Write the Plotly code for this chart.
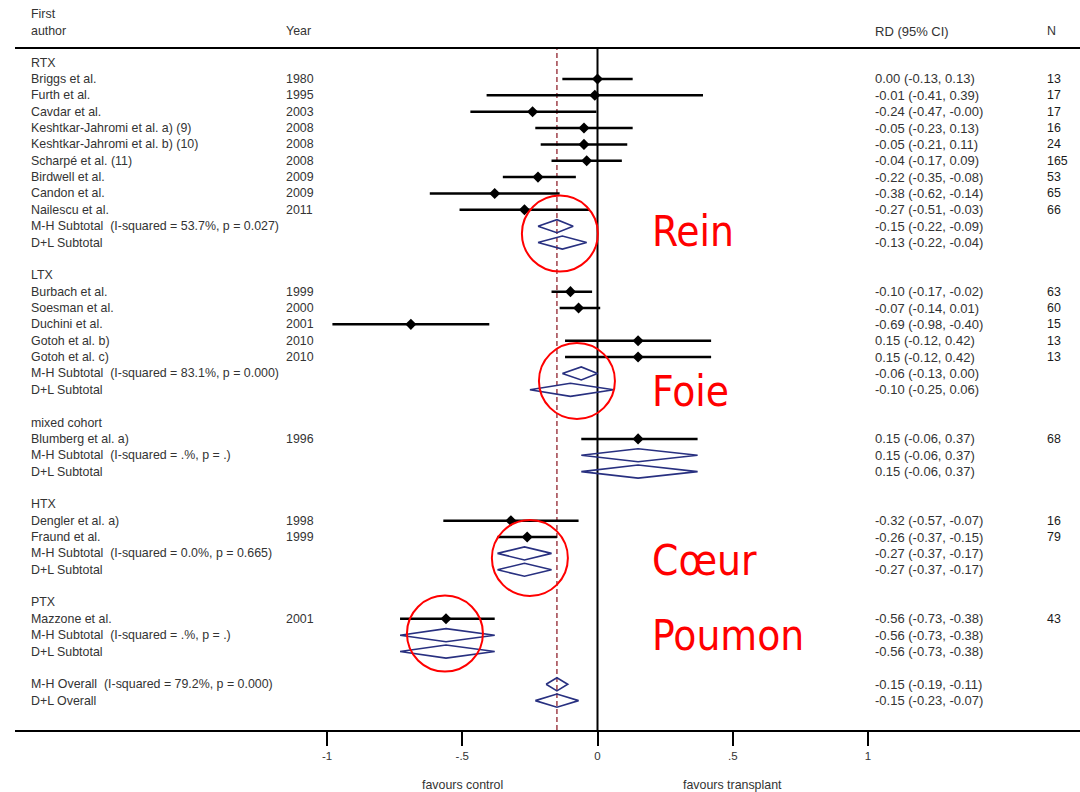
import plotly.graph_objects as go

# ---------------- data ----------------
group_names = ["RTX", "LTX", "mixed cohort", "HTX", "PTX"]
study_group = [0, 0, 0, 0, 0, 0, 0, 0, 0, 1, 1, 1, 1, 1, 2, 3, 3, 4]
study_author = ["Briggs et al.", "Furth et al.", "Cavdar et al.",
                "Keshtkar-Jahromi et al. a) (9)", "Keshtkar-Jahromi et al. b) (10)",
                "Scharpé et al. (11)", "Birdwell et al.", "Candon et al.", "Nailescu et al.",
                "Burbach et al.", "Soesman et al.", "Duchini et al.", "Gotoh et al. b)", "Gotoh et al. c)",
                "Blumberg et al. a)",
                "Dengler et al. a)", "Fraund et al.",
                "Mazzone et al."]
study_year = [1980, 1995, 2003, 2008, 2008, 2008, 2009, 2009, 2011,
              1999, 2000, 2001, 2010, 2010,
              1996,
              1998, 1999,
              2001]
study_rd = [0.00, -0.01, -0.24, -0.05, -0.05, -0.04, -0.22, -0.38, -0.27,
            -0.10, -0.07, -0.69, 0.15, 0.15,
            0.15,
            -0.32, -0.26,
            -0.56]
study_lo = [-0.13, -0.41, -0.47, -0.23, -0.21, -0.17, -0.35, -0.62, -0.51,
            -0.17, -0.14, -0.98, -0.12, -0.12,
            -0.06,
            -0.57, -0.37,
            -0.73]
study_hi = [0.13, 0.39, -0.004, 0.13, 0.11, 0.09, -0.08, -0.14, -0.03,
            -0.02, 0.01, -0.40, 0.42, 0.42,
            0.37,
            -0.07, -0.15,
            -0.38]
study_n = [13, 17, 17, 16, 24, 165, 53, 65, 66,
           63, 60, 15, 13, 13,
           68,
           16, 79,
           43]

mh_i2 = ["53.7", "83.1", "", "0.0", ""]
mh_p = ["0.027", "0.000", "", "0.665", ""]
mh_rd = [-0.15, -0.06, 0.15, -0.27, -0.56]
mh_lo = [-0.22, -0.13, -0.06, -0.37, -0.73]
mh_hi = [-0.09, 0.00, 0.37, -0.17, -0.38]
dl_rd = [-0.13, -0.10, 0.15, -0.27, -0.56]
dl_lo = [-0.22, -0.25, -0.06, -0.37, -0.73]
dl_hi = [-0.04, 0.06, 0.37, -0.17, -0.38]

overall_i2, overall_p = "79.2", "0.000"
overall_mh = (-0.15, -0.19, -0.11)
overall_dl = (-0.15, -0.23, -0.07)

tick_vals = [-1, -0.5, 0, 0.5, 1]
tick_text = ["-1", "-.5", "0", ".5", "1"]

organ_labels = ["Rein", "Foie", "Cœur", "Poumon"]

# ---------------- layout helpers ----------------
W, H = 1080, 792
PL, PR, PT, PB = 15, 0, 49, 62
X0_PX, UNIT_PX = 597.5, 270.5
ROW0_PX, ROW_PX = 62.6, 16.36
AX_PX = H - PB


def px2paper_x(px):
    return (px - PL) / (W - PL - PR)


def py2paper_y(py):
    return (AX_PX - py) / (AX_PX - PT)


FAM = "Liberation Sans, Arial, sans-serif"
TXT = dict(family=FAM, size=12.4, color="#333333")
TXT_RD = dict(family=FAM, size=13, color="#333333")
NAVY = "#283080"


def fmt(v):
    return f"{v:.2f}"


def ci_text(e, lo, hi):
    return f"{fmt(e)} ({fmt(lo)}, {fmt(hi)})"


def het_text(kind, i2, p):
    return f"M-H {kind} \u00a0(I-squared = {i2 if i2 else '.'}%, p = {p if p else '.'})"


rows = []
for g, gname in enumerate(group_names):
    rows.append(dict(label=gname))
    for k in range(len(study_author)):
        if study_group[k] != g:
            continue
        rows.append(dict(label=study_author[k], year=str(study_year[k]),
                         rd=ci_text(study_rd[k], study_lo[k], study_hi[k]), n=str(study_n[k]),
                         kind="study", est=study_rd[k], lo=study_lo[k], hi=study_hi[k]))
    rows.append(dict(label=het_text("Subtotal", mh_i2[g], mh_p[g]),
                     rd=ci_text(mh_rd[g], mh_lo[g], mh_hi[g]),
                     kind="diamond", est=mh_rd[g], lo=mh_lo[g], hi=mh_hi[g]))
    rows.append(dict(label="D+L Subtotal",
                     rd=ci_text(dl_rd[g], dl_lo[g], dl_hi[g]),
                     kind="diamond", est=dl_rd[g], lo=dl_lo[g], hi=dl_hi[g]))
    rows.append(dict(label=""))
rows.append(dict(label=het_text("Overall", overall_i2, overall_p),
                 rd=ci_text(*overall_mh), kind="diamond",
                 est=overall_mh[0], lo=overall_mh[1], hi=overall_mh[2]))
rows.append(dict(label="D+L Overall", rd=ci_text(*overall_dl), kind="diamond",
                 est=overall_dl[0], lo=overall_dl[1], hi=overall_dl[2]))

fig = go.Figure()

cx, cy = [], []
mx, my = [], []
dx, dy = [], []
DH = 0.4
for i, r in enumerate(rows):
    if r.get("kind") == "study":
        cx += [r["lo"], r["hi"], None]
        cy += [i, i, None]
        mx.append(r["est"])
        my.append(i)
    elif r.get("kind") == "diamond":
        dx += [r["lo"], r["est"], r["hi"], r["est"], r["lo"], None]
        dy += [i, i - DH, i, i + DH, i, None]

fig.add_trace(go.Scatter(x=cx, y=cy, mode="lines", line=dict(color="black", width=2.5),
                         hoverinfo="skip"))
fig.add_trace(go.Scatter(x=mx, y=my, mode="markers",
                         marker=dict(symbol="diamond", size=8.5, color="black")))
fig.add_trace(go.Scatter(x=dx, y=dy, mode="lines", line=dict(color=NAVY, width=1.6),
                         hoverinfo="skip"))

annotations = []


def add_text(px, yval, text, yref="y", font=TXT, xanchor="left"):
    annotations.append(dict(x=px2paper_x(px), xref="paper", y=yval, yref=yref, text=text,
                            showarrow=False, xanchor=xanchor, yanchor="middle", font=font))


RD_PX = 873
for i, r in enumerate(rows):
    if r["label"]:
        add_text(29, i, r["label"])
    if r.get("year"):
        add_text(284, i, r["year"])
    if r.get("rd"):
        add_text(RD_PX, i, r["rd"], font=TXT_RD)
    if r.get("n"):
        add_text(1045, i, r["n"], font=dict(TXT, color="#1a1a1a"))

# headers
add_text(29, py2paper_y(14), "First", yref="paper")
add_text(29, py2paper_y(31), "author", yref="paper")
add_text(284, py2paper_y(31), "Year", yref="paper")
add_text(RD_PX, py2paper_y(31), "RD (95% CI)", yref="paper", font=TXT_RD)
add_text(1045, py2paper_y(31), "N", yref="paper")

# favours labels
annotations.append(dict(x=-0.5, xref="x", y=py2paper_y(785), yref="paper", text="favours control",
                        showarrow=False, xanchor="center", yanchor="middle", font=TXT))
annotations.append(dict(x=0.5, xref="x", y=py2paper_y(785), yref="paper", text="favours transplant",
                        showarrow=False, xanchor="center", yanchor="middle", font=TXT))

# organ labels (red)
RED_FONT = dict(family="Liberation Sans Narrow, Arial Narrow, DejaVu Sans Condensed, sans-serif",
                size=42, color="#ff0000")
organ_text_py = [232, 392, 560, 635]
for lab, py in zip(organ_labels, organ_text_py):
    add_text(650, py2paper_y(py), lab, yref="paper", font=RED_FONT)

shapes = [
    dict(type="line", xref="x", yref="paper", x0=0, x1=0, y0=0, y1=1,
         line=dict(color="black", width=2), layer="below"),
    dict(type="line", xref="x", yref="paper", x0=overall_mh[0], x1=overall_mh[0], y0=0, y1=1,
         line=dict(color="#a0404a", width=1.5, dash="5px,3px"), layer="below"),
]
circle_centers = [(-0.139, 10.45), (-0.076, 19.46), (-0.25, 30.28), (-0.564, 34.9)]
R = 38
for (ccx, ccy) in circle_centers:
    shapes.append(dict(type="circle", xref="x", yref="y", xsizemode="pixel", ysizemode="pixel",
                       xanchor=ccx, yanchor=ccy, x0=-R, x1=R, y0=-R, y1=R,
                       line=dict(color="#ff0000", width=2)))

fig.update_layout(
    width=W, height=H,
    margin=dict(l=PL, r=PR, t=PT, b=PB, pad=0),
    paper_bgcolor="white", plot_bgcolor="white",
    showlegend=False,
    xaxis=dict(range=[(PL - X0_PX) / UNIT_PX, (W - PR - X0_PX) / UNIT_PX],
               showgrid=False, zeroline=False, showline=True, linecolor="black", linewidth=2,
               mirror=True, ticks="outside", ticklen=14, tickwidth=2, tickcolor="black",
               tickvals=tick_vals, ticktext=tick_text,
               tickfont=dict(family=FAM, size=11.5, color="#333333"),
               fixedrange=True),
    yaxis=dict(range=[(AX_PX - ROW0_PX) / ROW_PX, (PT - ROW0_PX) / ROW_PX],
               visible=False, showgrid=False, zeroline=False, fixedrange=True),
    annotations=annotations,
    shapes=shapes,
)

fig.write_html("out.html", config={"displayModeBar": False},
               post_script="document.body.style.margin='0px';document.body.style.padding='0px';")
